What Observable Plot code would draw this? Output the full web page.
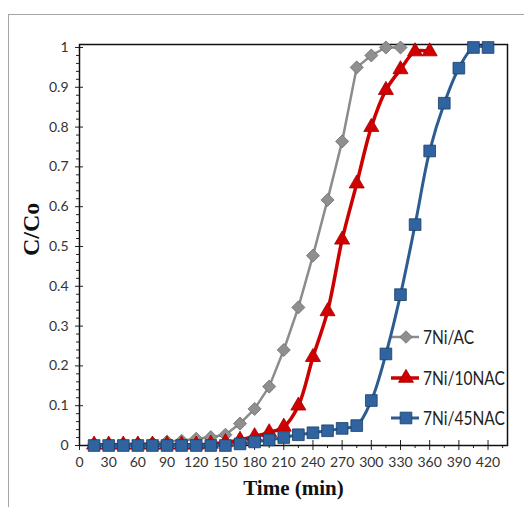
<!DOCTYPE html>
<html>
<head>
<meta charset="utf-8">
<script src="https://cdn.jsdelivr.net/npm/d3@7"></script>
<script src="https://cdn.jsdelivr.net/npm/@observablehq/plot@0.6"></script>
<style>
  html, body { margin: 0; padding: 0; background: #fff; }
  #wrap { position: relative; width: 524px; height: 507px; overflow: hidden; }
  #border { position: absolute; left: 8px; top: 14px; right: -2px; bottom: -2px;
            border-left: 1px solid #a6a6a6; border-top: 1px solid #a6a6a6; pointer-events: none; }
  #legend { position: absolute; left: 390px; top: 0; font-family: Lato, sans-serif;
            font-size: 15.5px; color: #222; }
  .row { position: absolute; left: 0; display: flex; align-items: center; white-space: nowrap; height: 20px; }
  .row svg { margin-right: 3px; }
  .row span { display: inline-block; transform: scaleY(1.2); transform-origin: 50% 55%; }
</style>
</head>
<body>
<div id="wrap"><div id="border"></div><div id="legend"></div></div>
<script>
// ---- data ----
const seriesNames = ["7Ni/AC", "7Ni/10NAC", "7Ni/45NAC"];
const timeAC   = [15,30,45,60,75,90,105,120,135,150,165,180,195,210,225,240,255,270,285,300,315,330];
const valueAC  = [0.003,0.003,0.004,0.005,0.006,0.01,0.012,0.017,0.021,0.027,0.055,0.092,0.148,0.24,0.347,0.477,0.617,0.764,0.95,0.98,1.0,1.0];
const time10   = [15,30,45,60,75,90,105,120,135,150,165,180,195,210,225,240,255,270,285,300,315,330,345,360];
const value10  = [0.002,0.002,0.002,0.002,0.002,0.002,0.002,0.002,0.004,0.008,0.014,0.023,0.033,0.047,0.1,0.222,0.337,0.517,0.658,0.8,0.893,0.945,0.99,0.99];
const time45   = [15,30,45,60,75,90,105,120,135,150,165,180,195,210,225,240,255,270,285,300,315,330,345,360,375,390,405,420];
const value45  = [0,0,0,0,0,0,0,0,0,0,0.004,0.009,0.014,0.02,0.027,0.032,0.037,0.043,0.05,0.113,0.23,0.379,0.555,0.74,0.86,0.948,1.0,1.0];
const xTicks = [0,30,60,90,120,150,180,210,240,270,300,330,360,390,420];
const xMinor = [15,45,75,105,135,165,195,225,255,285,315,345,375,405,435];
const yTicks = [0,0.1,0.2,0.3,0.4,0.5,0.6,0.7,0.8,0.9,1];
const yMinor = d3.range(0, 1.001, 0.02).filter(v => Math.abs(v*10 - Math.round(v*10)) > 1e-6);
const xLabel = "Time (min)";
const yLabel = "C/Co";

const ac  = timeAC.map((t,i) => ({t, v: valueAC[i]}));
const n10 = time10.map((t,i) => ({t, v: value10[i]}));
const n45 = time45.map((t,i) => ({t, v: value45[i]}));

const tickFont = "Lato, sans-serif";
const styles = {
  ac:  {line: "#8c8c8c", fill: "#8f8f8f", stroke: "#6f6f6f"},
  n10: {line: "#cc0000", fill: "#d00000", stroke: "#a00000"},
  n45: {line: "#2c5c92", fill: "#2f64a0", stroke: "#1c3e66"}
};

const chart = Plot.plot({
  width: 524, height: 507,
  marginLeft: 79, marginRight: 17, marginTop: 44, marginBottom: 62,
  x: {domain: [0, 440]},
  y: {domain: [0, 1.0075]},
  style: {fontFamily: tickFont, background: "transparent"},
  marks: [
    // axes
    Plot.axisY({ticks: yMinor, tickSize: 3, tickFormat: () => "", stroke: "#222", label: null}),
    Plot.axisY({ticks: yTicks, tickSize: -4, tickFormat: () => "", stroke: "#222", label: null}),
    Plot.axisY({ticks: yTicks, tickSize: 4, tickPadding: 7, fontSize: 14, fill: "#333", stroke: "#222",
                tickFormat: d => String(+d.toFixed(1)), label: null}),
    Plot.axisX({ticks: xMinor, tickSize: 3, tickFormat: () => "", stroke: "#222", label: null}),
    Plot.axisX({ticks: xTicks, tickSize: -5, tickFormat: () => "", stroke: "#222", label: null}),
    Plot.axisX({ticks: xTicks, tickSize: 5, tickPadding: 7, fontSize: 14, fill: "#333", stroke: "#222",
                tickFormat: d => String(d), label: null}),
    Plot.frame({stroke: "#111", strokeWidth: 1.5}),
    // axis titles
    Plot.text([xLabel], {frameAnchor: "bottom", dy: 49, fontFamily: "'Liberation Serif', serif", fontWeight: "bold", fontSize: 21, fill: "#111"}),
    Plot.text([yLabel], {frameAnchor: "left", dx: -48, dy: 11, rotate: -90, fontFamily: "'Liberation Serif', serif", fontWeight: "bold", fontSize: 24, fill: "#111"}),
    // series
    Plot.line(ac,  {x: "t", y: "v", stroke: styles.ac.line, strokeWidth: 2.5}),
    Plot.dot(ac,   {x: "t", y: "v", symbol: "diamond2", r: 5.9, fill: styles.ac.fill, stroke: styles.ac.stroke, strokeWidth: 0.8}),
    Plot.line(n10, {x: "t", y: "v", stroke: styles.n10.line, strokeWidth: 3.5, curve: "catmull-rom"}),
    Plot.dot(n10,  {x: "t", y: "v", symbol: "triangle", r: 5.6, fill: styles.n10.fill, stroke: styles.n10.stroke, strokeWidth: 0.8}),
    Plot.line(n45, {x: "t", y: "v", stroke: styles.n45.line, strokeWidth: 3, curve: "catmull-rom"}),
    Plot.dot(n45,  {x: "t", y: "v", symbol: "square", r: 6.6, fill: styles.n45.fill, stroke: styles.n45.stroke, strokeWidth: 0.8})
  ]
});
chart.style.position = "absolute";
chart.style.left = "0px";
chart.style.top = "0px";
document.getElementById("wrap").appendChild(chart);

// legend (HTML overlay)
const legendDefs = [
  {name: seriesNames[0], s: styles.ac,  sym: d3.symbolDiamond2, size: 100, lw: 2.5, top: 327},
  {name: seriesNames[1], s: styles.n10, sym: d3.symbolTriangle, size: 97,  lw: 3.5, top: 368},
  {name: seriesNames[2], s: styles.n45, sym: d3.symbolSquare,   size: 137, lw: 3,   top: 408}
];
const legend = d3.select("#legend");
for (const d of legendDefs) {
  const row = legend.append("div").attr("class", "row").style("top", d.top + "px");
  const svg = row.append("svg").attr("width", 30).attr("height", 20);
  svg.append("line").attr("x1", 1).attr("x2", 29).attr("y1", 10).attr("y2", 10)
     .attr("stroke", d.s.line).attr("stroke-width", d.lw);
  svg.append("path").attr("d", d3.symbol(d.sym, d.size)()).attr("transform", "translate(16,10)")
     .attr("fill", d.s.fill).attr("stroke", d.s.stroke).attr("stroke-width", 0.8);
  row.append("span").text(d.name);
}
</script>
</body>
</html>
